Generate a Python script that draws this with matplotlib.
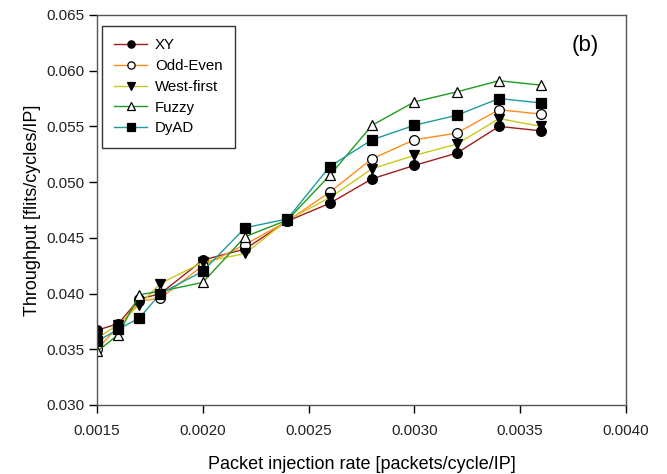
import matplotlib
matplotlib.use("Agg")
import matplotlib.pyplot as plt

plt.rcParams['font.family'] = ['Liberation Sans', 'DejaVu Sans']

x = [0.0015, 0.0016, 0.0017, 0.0018, 0.0020, 0.0022, 0.0024, 0.0026, 0.0028, 0.0030, 0.0032, 0.0034, 0.0036]
xy = [0.0367, 0.0373, 0.0395, 0.0400, 0.0430, 0.0440, 0.0465, 0.0481, 0.0503, 0.0515, 0.0526, 0.0550, 0.0546]
odd_even = [0.0350, 0.0370, 0.0393, 0.0396, 0.0425, 0.0444, 0.0465, 0.0491, 0.0521, 0.0538, 0.0544, 0.0565, 0.0561]
west_first = [0.0360, 0.0372, 0.0390, 0.0409, 0.0428, 0.0436, 0.0466, 0.0486, 0.0512, 0.0524, 0.0534, 0.0557, 0.0550]
fuzzy = [0.0348, 0.0363, 0.0399, 0.0402, 0.0410, 0.0451, 0.0466, 0.0506, 0.0551, 0.0572, 0.0581, 0.0591, 0.0587]
dyad = [0.0357, 0.0368, 0.0378, 0.0400, 0.0420, 0.0459, 0.0467, 0.0514, 0.0538, 0.0551, 0.0560, 0.0575, 0.0571]

series_names = ['XY', 'Odd-Even', 'West-first', 'Fuzzy', 'DyAD']
series_vals = [xy, odd_even, west_first, fuzzy, dyad]
colors = ['#a01e1e', '#ff8c1e', '#c8c81e', '#1e9b1e', '#1e9b9b']
markers = ['o', 'o', 'v', '^', 's']
faces = ['black', 'white', 'black', 'white', 'black']

xticks = [0.0015, 0.0020, 0.0025, 0.0030, 0.0035, 0.0040]
xtick_labels = ['0.0015', '0.0020', '0.0025', '0.0030', '0.0035', '0.0040']
yticks = [0.030, 0.035, 0.040, 0.045, 0.050, 0.055, 0.060, 0.065]
ytick_labels = ['0.030', '0.035', '0.040', '0.045', '0.050', '0.055', '0.060', '0.065']

fig = plt.figure(figsize=(6.67, 4.74), dpi=100)
ax = fig.add_axes([0.1454, 0.1456, 0.7931, 0.8228])

for name, vals, c, m, f in zip(series_names, series_vals, colors, markers, faces):
    ax.plot(x, vals, color=c, lw=1.0, marker=m, markersize=7, markerfacecolor=f,
            markeredgecolor='black', markeredgewidth=0.9, label=name)

ax.set_xlim(0.0015, 0.0040)
ax.set_ylim(0.030, 0.065)
ax.set_xticks(xticks)
ax.set_xticklabels(xtick_labels)
ax.set_yticks(yticks)
ax.set_yticklabels(ytick_labels)
ax.tick_params(direction='out', length=6, width=1, colors='black', labelsize=11, top=False, right=False)
ax.tick_params(axis='x', pad=8)
ax.tick_params(axis='y', pad=3)
for s in ax.spines.values():
    s.set_color('#555555')
    s.set_linewidth(1.0)
for lab in ax.get_xticklabels() + ax.get_yticklabels():
    lab.set_color('#222222')

ax.set_xlabel('Packet injection rate [packets/cycle/IP]', fontsize=13, labelpad=13)
ax.set_ylabel('Throughput [flits/cycles/IP]', fontsize=13, labelpad=4)

leg = ax.legend(loc='upper left', bbox_to_anchor=(0.0089, 0.9726), borderaxespad=0,
                fontsize=10.8, frameon=True, fancybox=False, edgecolor='black',
                borderpad=0.84, labelspacing=0.45, handlelength=2.2, handletextpad=0.5,
                markerscale=0.75)
leg.get_frame().set_linewidth(1.0)

ax.text(0.9225, 0.923, '(b)', transform=ax.transAxes, fontsize=16, ha='center', va='center')

fig.savefig('out.png', dpi=100)
